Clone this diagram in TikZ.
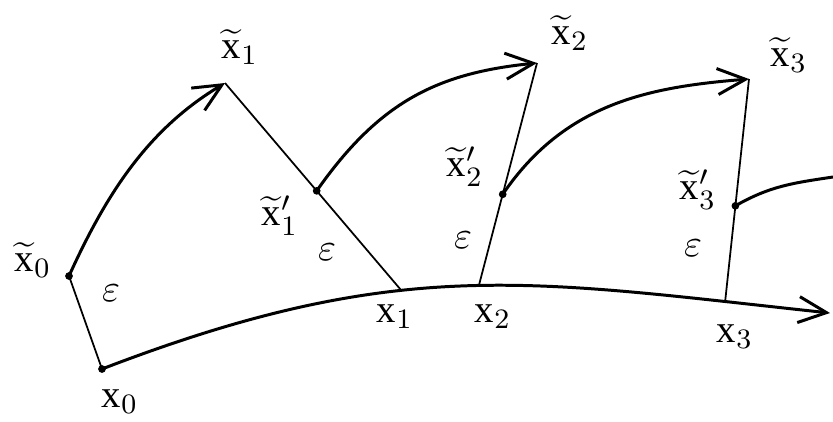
\documentclass[tikz,border=0pt]{standalone}
\usepackage{amsmath}
\usepackage{fontspec}
\setmainfont{Liberation Serif}
\usetikzlibrary{calc,arrows.meta}

\begin{document}
\begin{tikzpicture}[
  x=0.01cm, y=-0.01cm,
  font=\fontsize{11}{13}\selectfont,
  curve/.style={line width=0.85pt},
  seg/.style={line width=0.5pt},
  >={Straight Barb[length=2.8mm,width=2.6mm]}
]
\useasboundingbox (0,0) rectangle (833,421);

% BASE TRAJECTORY
\coordinate (x0) at (102,369);
\coordinate (xe) at (830,313);
\draw[curve,->] (x0) .. controls (401,254) and (531,281) .. (xe)
  coordinate[pos=0.4] (x1) coordinate[pos=0.52] (x2) coordinate[pos=0.875] (x3);

% PERTURBED POINTS
\coordinate (xt0) at (69,276);
\coordinate (xt1) at (225,83);
\coordinate (xt2) at (537,63);
\coordinate (xt3) at (749,79);
\coordinate (xt1p) at ($(xt1)!0.52!(x1)$);
\coordinate (xt2p) at ($(xt2)!0.59!(x2)$);
\coordinate (xt3p) at ($(xt3)!0.57!(x3)$);
\coordinate (xe4) at (833,177);

% EPSILON SEGMENTS
\draw[seg] (xt0) -- (x0);
\draw[seg] (xt1) -- (x1);
\draw[seg] (xt2) -- (x2);
\draw[seg] (xt3) -- (x3);

% DIVERGING ARCS
\draw[curve,->] (xt0) .. controls (108,190) and (150,128) .. (xt1);
\draw[curve,->] (xt1p) .. controls (379,102) and (437,73) .. (xt2);
\draw[curve,->] (xt2p) .. controls (565,103) and (649,87) .. (xt3);
\draw[curve] (xt3p) .. controls (770,186) and (793,183) .. (xe4);

\foreach \p in {x0,xt0,xt1p,xt2p,xt3p}{
  \fill (\p) circle (1.1pt);
}

% LABELS
\node (lxt0) at (33,260) {$\widetilde{\mathrm{x}}_0$};
\node (le0) at (111,293) {$\varepsilon$};
\node (lx0) at (120,402) {$\mathrm{x}_0$};
\node (lxt1) at (240,47) {$\widetilde{\mathrm{x}}_1$};
\node (lxt1p) at (280,216) {$\widetilde{\mathrm{x}}'_1$};
\node (le1) at (327,252) {$\varepsilon$};
\node (lx1) at (395,317) {$\mathrm{x}_1$};
\node (lxt2) at (570,33) {$\widetilde{\mathrm{x}}_2$};
\node (lxt2p) at (465,167) {$\widetilde{\mathrm{x}}'_2$};
\node (le2) at (463,240) {$\varepsilon$};
\node (lx2) at (493,317) {$\mathrm{x}_2$};
\node (lxt3) at (789,55) {$\widetilde{\mathrm{x}}_3$};
\node (lxt3p) at (698,190) {$\widetilde{\mathrm{x}}'_3$};
\node (le3) at (693,248) {$\varepsilon$};
\node (lx3) at (735,337) {$\mathrm{x}_3$};

\end{tikzpicture}
\end{document}
